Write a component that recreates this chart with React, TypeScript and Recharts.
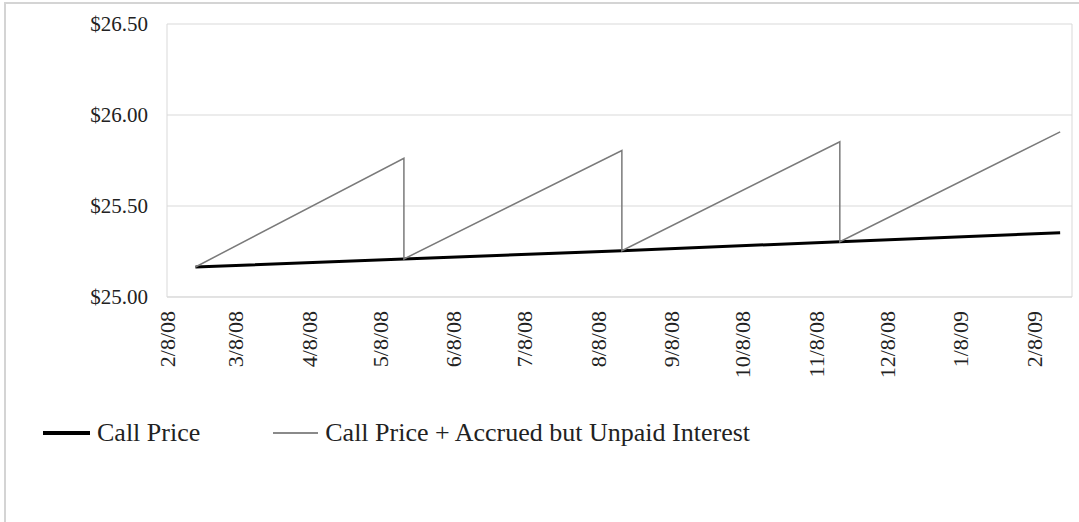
import React from "react";
import { LineChart, Line, XAxis, YAxis, CartesianGrid, ReferenceLine } from "recharts";

// month ticks on the date axis
const tickDates = [
  "2/8/08", "3/8/08", "4/8/08", "5/8/08", "6/8/08", "7/8/08", "8/8/08",
  "9/8/08", "10/8/08", "11/8/08", "12/8/08", "1/8/09", "2/8/09",
];
const axisStart = "2/8/08";
const axisEnd = "2/24/09";
const yTicks = [25, 25.5, 26, 26.5];

// Call Price (accretes slowly)
const callDates = ["2/20/08", "5/18/08", "8/18/08", "11/18/08", "2/19/09"];
const callValues = [25.165, 25.209, 25.254, 25.304, 25.353];

// Call Price + Accrued but Unpaid Interest (resets on each payment date)
const accruedDates = [
  "2/20/08", "5/18/08", "5/18/08", "8/18/08", "8/18/08", "11/18/08", "11/18/08", "2/19/09",
];
const accruedValues = [25.165, 25.762, 25.209, 25.805, 25.254, 25.853, 25.304, 25.907];

const SERIF = '"Liberation Serif", "Times New Roman", serif';

const toTime = (s: string) => {
  const [m, d, y] = s.split("/").map(Number);
  return Date.UTC(2000 + y, m - 1, d);
};

const fmtDate = (t: number) => {
  const d = new Date(t);
  return `${d.getUTCMonth() + 1}/${d.getUTCDate()}/${String(d.getUTCFullYear() % 100).padStart(2, "0")}`;
};

const callData = callDates.map((d, i) => ({ t: toTime(d), v: callValues[i] }));
const accruedData = accruedDates.map((d, i) => ({ t: toTime(d), v: accruedValues[i] }));

const DateTick = (props: any) => {
  const { x, y, payload } = props;
  return (
    <text
      x={x}
      y={y}
      dy="0.35em"
      transform={`rotate(-90 ${x} ${y})`}
      textAnchor="end"
      fontFamily={SERIF}
      fontSize={22}
      fill="#222"
    >
      {fmtDate(payload.value)}
    </text>
  );
};

export default function App() {
  return (
    <div
      style={{
        position: "absolute",
        left: 0,
        top: 0,
        width: 1079,
        height: 522,
        overflow: "hidden",
        background: "#fff",
      }}
    >
      <div
        style={{
          position: "absolute",
          left: 4,
          top: 2,
          width: 1100,
          height: 560,
          border: "2px solid #d4d4d4",
        }}
      />
      <div style={{ position: "absolute", left: 0, top: 0 }}>
        <LineChart
          width={1079}
          height={522}
          margin={{ top: 24, right: 7, bottom: 0, left: 7 }}
        >
          <CartesianGrid vertical={false} stroke="#d9d9d9" />
          <XAxis
            type="number"
            dataKey="t"
            domain={[toTime(axisStart), toTime(axisEnd)]}
            ticks={tickDates.map(toTime)}
            allowDataOverflow
            height={225}
            tickLine={false}
            tickSize={14}
            tickMargin={0}
            interval={0}
            axisLine={{ stroke: "#d9d9d9" }}
            tick={<DateTick />}
          />
          <YAxis
            type="number"
            domain={[25, 26.5]}
            ticks={yTicks}
            width={160}
            tickLine={false}
            tickSize={0}
            tickMargin={19}
            axisLine={{ stroke: "#d9d9d9" }}
            tickFormatter={(v: number) => `$${v.toFixed(2)}`}
            tick={{ fontFamily: SERIF, fontSize: 21, fill: "#222" }}
          />
          <ReferenceLine x={toTime(axisEnd)} stroke="#d9d9d9" />
          <Line
            data={callData}
            dataKey="v"
            name="Call Price"
            stroke="#000"
            strokeWidth={3}
            dot={false}
            isAnimationActive={false}
          />
          <Line
            data={accruedData}
            dataKey="v"
            name="Call Price + Accrued but Unpaid Interest"
            stroke="#7a7a7a"
            strokeWidth={1.5}
            dot={false}
            isAnimationActive={false}
          />
        </LineChart>
      </div>
      <div
        style={{
          position: "absolute",
          left: 43,
          top: 418,
          display: "flex",
          alignItems: "center",
          fontFamily: SERIF,
          fontSize: 26,
          color: "#222",
          whiteSpace: "nowrap",
        }}
      >
        <div style={{ width: 47, height: 4, background: "#000" }} />
        <span style={{ marginLeft: 7 }}>Call Price</span>
        <div style={{ width: 45, height: 2, background: "#8a8a8a", marginLeft: 73 }} />
        <span style={{ marginLeft: 7 }}>Call Price + Accrued but Unpaid Interest</span>
      </div>
    </div>
  );
}
